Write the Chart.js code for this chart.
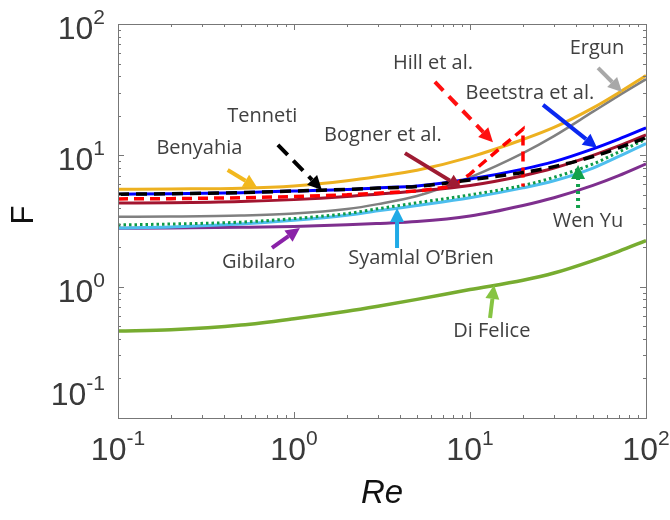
<!DOCTYPE html>
<html>
<head>
<meta charset="utf-8">
<script src="https://cdn.jsdelivr.net/npm/chart.js@4.4.0/dist/chart.umd.min.js"></script>
<style>
  html, body { margin: 0; padding: 0; background: #fff; }
</style>
</head>
<body>
<canvas id="myChart" width="670" height="520"></canvas>
<script>
// valeurs (Re en abscisse, F en ordonnée)
const reynolds = [0.1, 0.2, 0.5, 1, 2, 3, 5, 10, 20, 30, 50, 70, 100];
const benyahia = [5.52, 5.55, 5.62, 5.85, 6.4, 6.9, 7.7, 9.7, 13.2, 16.3, 23, 30, 40.5];
const tenneti = [5.06, 5.1, 5.2, 5.35, 5.5, 5.63, 5.8, 6.5, 7.4, 8.2, 9.8, 11.4, 13.6];
const beetstra = [5.06, 5.1, 5.2, 5.35, 5.5, 5.65, 5.85, 6.6, 7.85, 8.95, 11.2, 13.3, 16.2];
const bogner = [4.34, 4.36, 4.45, 4.6, 4.85, 5.06, 5.35, 5.9, 7.0, 8.0, 10.0, 11.8, 14.3];
const ergun = [3.4, 3.42, 3.48, 3.6, 3.9, 4.25, 4.9, 6.8, 10.4, 14.0, 21.5, 28.5, 38];
const wenYu = [2.95, 3.0, 3.1, 3.3, 3.6, 3.92, 4.35, 5.0, 5.9, 6.8, 8.6, 10.6, 13.3];
const syamlal = [2.8, 2.85, 3.0, 3.2, 3.5, 3.78, 4.15, 4.75, 5.65, 6.4, 8.0, 9.8, 12.3];
const gibilaro = [2.78, 2.8, 2.83, 2.87, 2.96, 3.03, 3.13, 3.45, 4.15, 4.75, 5.9, 7.0, 8.6];
const diFelice = [0.46, 0.47, 0.51, 0.57, 0.65, 0.71, 0.8, 0.95, 1.12, 1.27, 1.58, 1.86, 2.24];
// Hill s'arrête à Re = 20 (chute verticale)
const reynoldsHill = [0.1, 0.2, 0.5, 1, 2, 5, 8, 10, 15, 20, 20];
const hill = [4.66, 4.68, 4.75, 4.85, 5.0, 5.35, 5.8, 7.2, 11.5, 15.8, 5.8];

// graduations : puissances de 10
const tickExponents = [-1, 0, 1, 2];
const xTitle = "Re";
const yTitle = "F";

// étiquettes et flèches (coordonnées en Re / F)
const annotations = [
  { text: "Tenneti", at: [0.66, 20], from: [0.81, 12], to: [1.44, 5.45], color: "#000000", dash: [14, 8] },
  { text: "Benyahia", at: [0.29, 11.4], from: [0.42, 7.74], to: [0.62, 5.65], color: "#F2B81E", dash: [] },
  { text: "Bogner et al.", at: [3.2, 14.1], from: [4.27, 10.4], to: [9.0, 5.65], color: "#9E1B32", dash: [] },
  { text: "Hill et al.", at: [6.16, 50.6], from: [6.32, 36.2], to: [13.5, 12.6], color: "#FF1010", dash: [12, 8] },
  { text: "Ergun", at: [52.7, 65.8], from: [53.4, 46.3], to: [73.1, 30.4], color: "#A8A8A8", dash: [] },
  { text: "Beetstra et al.", at: [21.9, 29.9], from: [26, 24.2], to: [52.7, 11.4], color: "#0A28F0", dash: [] },
  { text: "Wen Yu", at: [46.8, 3.16], from: [41.1, 3.97], to: [41.1, 8.45], color: "#12A14B", dash: [3, 4] },
  { text: "Syamlal O\u2019Brien", at: [5.27, 1.65], from: [3.85, 1.97], to: [3.85, 3.97], color: "#1FAAE6", dash: [] },
  { text: "Gibilaro", at: [0.63, 1.54], from: [0.75, 1.97], to: [1.08, 2.8], color: "#8A22A8", dash: [] },
  { text: "Di Felice", at: [13.3, 0.46], from: [13.0, 0.578], to: [13.7, 1.03], color: "#86C442", dash: [] },
];

function toPoints(xs, ys) {
  return xs.map((x, i) => ({ x: x, y: ys[i] }));
}

function courbe(label, xs, ys, color, dash, width) {
  return {
    label: label,
    data: toPoints(xs, ys),
    borderColor: color,
    borderWidth: width || 3,
    borderDash: dash || [],
    showLine: true,
    pointRadius: 0,
    fill: false,
    cubicInterpolationMode: "monotone",
  };
}

// le premier jeu est dessiné au-dessus
const datasets = [
  courbe("Tenneti", reynolds, tenneti, "#000000", [11, 7], 3.5),
  Object.assign(courbe("Hill et al.", reynoldsHill, hill, "#FF0000", [10, 6], 3.5), { cubicInterpolationMode: "default", tension: 0 }),
  courbe("Wen Yu", reynolds, wenYu, "#0E9A48", [2.5, 3], 3),
  courbe("Beetstra et al.", reynolds, beetstra, "#0000FF", [], 3),
  courbe("Bogner et al.", reynolds, bogner, "#A2142F", [], 3),
  courbe("Benyahia", reynolds, benyahia, "#EDB120", [], 3),
  courbe("Ergun", reynolds, ergun, "#808080", [], 2.5),
  courbe("Syamlal O'Brien", reynolds, syamlal, "#4DBEEE", [], 3),
  courbe("Gibilaro", reynolds, gibilaro, "#7E2F8E", [], 3),
  courbe("Di Felice", reynolds, diFelice, "#77AC30", [], 3.5),
];

function drawArrow(ctx, x1, y1, x2, y2, color, dash) {
  const ang = Math.atan2(y2 - y1, x2 - x1);
  const headLen = 14;
  const headW = 7;
  const bx = x2 - headLen * Math.cos(ang);
  const by = y2 - headLen * Math.sin(ang);
  ctx.save();
  ctx.strokeStyle = color;
  ctx.fillStyle = color;
  ctx.lineWidth = 4;
  ctx.setLineDash(dash);
  ctx.beginPath();
  ctx.moveTo(x1, y1);
  ctx.lineTo(bx, by);
  ctx.stroke();
  ctx.setLineDash([]);
  ctx.beginPath();
  ctx.moveTo(x2, y2);
  ctx.lineTo(bx + headW * Math.sin(ang), by - headW * Math.cos(ang));
  ctx.lineTo(bx - headW * Math.sin(ang), by + headW * Math.cos(ang));
  ctx.closePath();
  ctx.fill();
  ctx.restore();
}

function drawPow(ctx, exp, x, baseline, align) {
  const big = "32px 'Liberation Sans', Arial, sans-serif";
  const small = "21px 'Liberation Sans', Arial, sans-serif";
  ctx.font = big;
  const w1 = ctx.measureText("10").width;
  ctx.font = small;
  const w2 = ctx.measureText(String(exp)).width;
  let start = align === "right" ? x - w1 - w2 : x - (w1 + w2) / 2;
  ctx.textAlign = "left";
  ctx.textBaseline = "alphabetic";
  ctx.font = big;
  ctx.fillText("10", start, baseline);
  ctx.font = small;
  ctx.fillText(String(exp), start + w1, baseline - 15);
}

const decor = {
  id: "decor",
  afterDatasetsDraw(chart) {
    const ctx = chart.ctx;
    const xs = chart.scales.x;
    const ys = chart.scales.y;
    const a = chart.chartArea;
    ctx.save();
    // cadre
    ctx.strokeStyle = "#777777";
    ctx.lineWidth = 1;
    ctx.strokeRect(Math.round(a.left) + 0.5, Math.round(a.top) + 0.5, Math.round(a.right - a.left), Math.round(a.bottom - a.top));
    // graduations majeures et mineures vers l'intérieur
    ctx.beginPath();
    for (let d = tickExponents[0]; d <= tickExponents[tickExponents.length - 1]; d++) {
      for (let k = 1; k <= 9; k++) {
        const v = k * Math.pow(10, d);
        if (v > 100.0001) continue;
        const len = k === 1 ? 6 : 3;
        const px = Math.round(xs.getPixelForValue(v)) + 0.5;
        ctx.moveTo(px, a.bottom);
        ctx.lineTo(px, a.bottom - len);
        ctx.moveTo(px, a.top);
        ctx.lineTo(px, a.top + len);
        const py = Math.round(ys.getPixelForValue(v)) + 0.5;
        ctx.moveTo(a.left, py);
        ctx.lineTo(a.left + len, py);
        ctx.moveTo(a.right, py);
        ctx.lineTo(a.right - len, py);
      }
    }
    ctx.stroke();
    // étiquettes des graduations
    ctx.fillStyle = "#3a3a3a";
    tickExponents.forEach((e) => {
      const v = Math.pow(10, e);
      drawPow(ctx, e, xs.getPixelForValue(v), a.bottom + 42, "center");
      const py = ys.getPixelForValue(v);
      drawPow(ctx, e, a.left - 13, e === tickExponents[0] ? py - 13 : py + 15, "right");
    });
    // titres des axes
    ctx.fillStyle = "#111111";
    ctx.textAlign = "center";
    ctx.textBaseline = "middle";
    ctx.font = "italic 33px 'Liberation Sans', Arial, sans-serif";
    ctx.fillText(xTitle, (a.left + a.right) / 2, 494);
    ctx.save();
    ctx.translate(24, 215);
    ctx.rotate(-Math.PI / 2);
    ctx.font = "31px 'Liberation Sans', Arial, sans-serif";
    ctx.fillText(yTitle, 0, 0);
    ctx.restore();
    // annotations
    annotations.forEach((an) => {
      drawArrow(ctx,
        xs.getPixelForValue(an.from[0]), ys.getPixelForValue(an.from[1]),
        xs.getPixelForValue(an.to[0]), ys.getPixelForValue(an.to[1]),
        an.color, an.dash);
      ctx.fillStyle = "#404040";
      ctx.font = "20px 'Open Sans', sans-serif";
      ctx.textAlign = "center";
      ctx.textBaseline = "middle";
      ctx.fillText(an.text, xs.getPixelForValue(an.at[0]), ys.getPixelForValue(an.at[1]));
    });
    ctx.restore();
  },
};

const config = {
  type: "scatter",
  data: { datasets: datasets },
  options: {
    responsive: false,
    animation: false,
    layout: { padding: { left: 118, top: 24, right: 24, bottom: 102 } },
    plugins: { legend: { display: false }, tooltip: { enabled: false } },
    scales: {
      x: { type: "logarithmic", min: 0.1, max: 100, display: false },
      y: { type: "logarithmic", min: 0.1, max: 100, display: false },
    },
  },
  plugins: [decor],
};

let context = document.getElementById("myChart").getContext("2d");
let chart = new Chart(context, config);
</script>
</body>
</html>
